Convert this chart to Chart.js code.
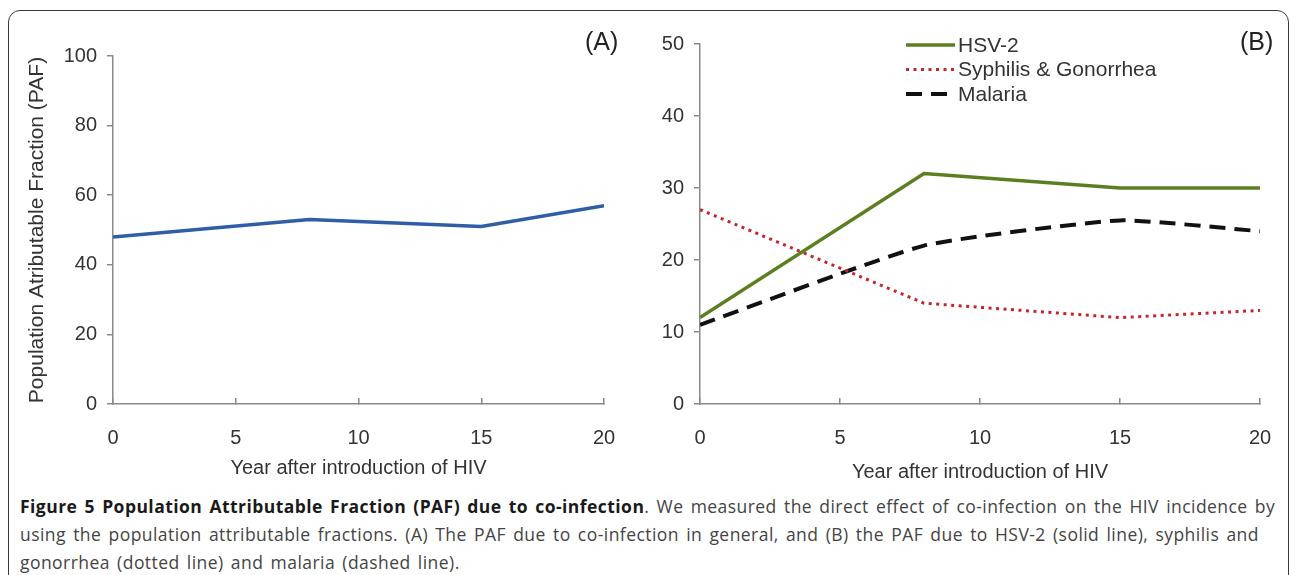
<!DOCTYPE html>
<html><head><meta charset="utf-8">
<script src="https://cdn.jsdelivr.net/npm/chart.js@4.4.1/dist/chart.umd.min.js"></script>
<style>
html,body{margin:0;padding:0;background:#fff;width:1295px;height:575px;overflow:hidden;}
#frame{position:absolute;left:8px;top:10px;width:1281px;height:600px;border:1.5px solid #3a3a3a;border-radius:12px;box-sizing:border-box;}
#cA{position:absolute;left:0;top:0;}
#cB{position:absolute;left:640px;top:0;}
.panel{position:absolute;font-family:"Liberation Sans",Arial,sans-serif;font-size:25px;color:#222;line-height:1;}
#caption{position:absolute;left:20px;top:492px;font-family:"Open Sans",sans-serif;font-size:17.5px;line-height:28px;color:#444;white-space:nowrap;letter-spacing:0.45px;word-spacing:2.2px;}
#caption b{color:#1a1a1a;}
</style></head>
<body>
<div id="frame"></div>
<canvas id="cA" width="640" height="490"></canvas>
<canvas id="cB" width="655" height="490"></canvas>
<div class="panel" style="left:585px;top:29px;">(A)</div>
<div class="panel" style="left:1240px;top:29px;">(B)</div>
<div id="caption"><b>Figure 5 Population Attributable Fraction (PAF) due to co-infection</b>. We measured the direct effect of co-infection on the HIV incidence by<br>using the population attributable fractions. (A) The PAF due to co-infection in general, and (B) the PAF due to HSV-2 (solid line), syphilis and<br>gonorrhea (dotted line) and malaria (dashed line).</div>
<script>
const years = [0, 8, 15, 20];
const pafAll = [48, 53, 51, 57];
const hsv2 = [12, 32, 30, 30];
const syphGon = [27, 14, 12, 13];
const malaria = [11, 22, 25.5, 24];
const seriesLabels = ['HSV-2', 'Syphilis & Gonorrhea', 'Malaria'];
const xTitle = 'Year after introduction of HIV';
const yTitleA = 'Population Atributable Fraction (PAF)';

const pts = ys => years.map((x, i) => ({x: x, y: ys[i]}));
const FONT = '"Liberation Sans", Arial, sans-serif';
const AXIS = '#8a8a8a';
const TXT = '#333';

function scales(yMax, yStep, yWidth, yTitle, xTitlePad) {
  return {
    x: {
      type: 'linear', min: 0, max: 20,
      ticks: {stepSize: 5, color: TXT, font: {family: FONT, size: 20}, padding: 28, maxRotation: 0},
      grid: {drawOnChartArea: false, tickLength: -6, color: AXIS, lineWidth: 1.5},
      border: {color: AXIS, width: 1.5},
      title: {display: true, text: xTitle, color: TXT, font: {family: FONT, size: 20}, padding: {top: 0, bottom: xTitlePad}},
      afterFit: s => { s.height = 86; s.paddingLeft = 0; s.paddingRight = 0; }
    },
    y: {
      type: 'linear', min: 0, max: yMax,
      ticks: {stepSize: yStep, color: TXT, font: {family: FONT, size: 20}, padding: 10},
      grid: {drawOnChartArea: false, tickLength: 6, color: AXIS, lineWidth: 1.5},
      border: {color: AXIS, width: 1.5},
      title: {display: !!yTitle, text: yTitle || '', color: TXT, font: {family: FONT, size: 21}, padding: {top: 25, bottom: 0}},
      afterFit: s => { s.width = yWidth; }
    }
  };
}

const insetLegend = {
  id: 'insetLegend',
  afterDatasetsDraw(chart, args, o) {
    if (!o || !o.show) return;
    const ctx = chart.ctx;
    ctx.save();
    chart.data.datasets.forEach((ds, i) => {
      const y = o.y + i * o.rowH;
      ctx.beginPath();
      ctx.setLineDash(ds.borderDash || []);
      ctx.lineWidth = ds.borderWidth;
      ctx.strokeStyle = ds.borderColor;
      ctx.moveTo(o.x, y); ctx.lineTo(o.x + o.len, y); ctx.stroke();
      ctx.setLineDash([]);
      ctx.fillStyle = TXT;
      ctx.font = '21px ' + FONT;
      ctx.textBaseline = 'middle';
      ctx.fillText(ds.label, o.x + o.len + 3, y + 1);
    });
    ctx.restore();
  }
};

const common = {
  responsive: false, animation: false,
  plugins: {legend: {display: false}, tooltip: {enabled: false}},
  elements: {point: {radius: 0}}
};

new Chart(document.getElementById('cA'), {
  type: 'line',
  data: {datasets: [{label: 'PAF', data: pts(pafAll), borderColor: '#2f5da6', borderWidth: 3.5, tension: 0}]},
  options: Object.assign({}, common, {
    layout: {padding: {left: 0, top: 56, right: 36, bottom: 0}},
    scales: scales(100, 20, 113, yTitleA, 10)
  })
});

new Chart(document.getElementById('cB'), {
  type: 'line',
  data: {datasets: [
    {label: seriesLabels[0], data: pts(hsv2), borderColor: '#5b7f1f', borderWidth: 3.5, tension: 0},
    {label: seriesLabels[1], data: pts(syphGon), borderColor: '#c4262e', borderWidth: 3, borderDash: [3, 4.5], tension: 0},
    {label: seriesLabels[2], data: pts(malaria), borderColor: '#111', borderWidth: 4, borderDash: [16, 9], tension: 0.15}
  ]},
  options: Object.assign({}, common, {
    layout: {padding: {left: 0, top: 44, right: 35, bottom: 0}},
    scales: scales(50, 10, 60, null, 6),
    plugins: {legend: {display: false}, tooltip: {enabled: false},
      insetLegend: {show: true, x: 266, y: 45, rowH: 24.5, len: 49}}
  }),
  plugins: [insetLegend]
});
</script>
</body></html>
